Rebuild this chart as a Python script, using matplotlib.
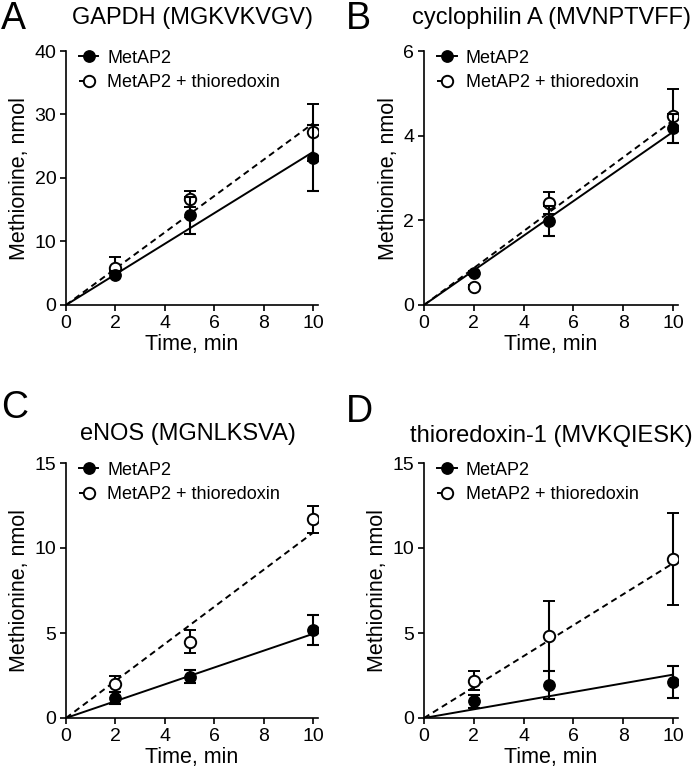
import numpy as np
import matplotlib
matplotlib.use('Agg')
import matplotlib.pyplot as plt
from matplotlib.lines import Line2D

plt.rcParams['font.family'] = ['Liberation Sans', 'DejaVu Sans']

times = [2, 5, 10]

panel_letters = ['A', 'B', 'C', 'D']
titles = ['GAPDH (MGKVKVGV)', 'cyclophilin A (MVNPTVFF)',
          'eNOS (MGNLKSVA)', 'thioredoxin-1 (MVKQIESK)']
y_max = [40, 6, 15, 15]
y_ticks = [[0, 10, 20, 30, 40], [0, 2, 4, 6], [0, 5, 10, 15], [0, 5, 10, 15]]
x_ticks = [0, 2, 4, 6, 8, 10]

# MetAP2 alone: mean and SD per time point
metap2_mean = [[4.8, 14.1, 23.2], [0.76, 1.99, 4.17], [1.17, 2.44, 5.18], [0.98, 1.96, 2.12]]
metap2_sd = [[0.5, 2.9, 5.2], [0.05, 0.35, 0.34], [0.35, 0.4, 0.9], [0.4, 0.82, 0.92]]
# MetAP2 + thioredoxin
trx_mean = [[5.9, 16.7, 27.2], [0.42, 2.41, 4.47], [2.0, 4.5, 11.68], [2.2, 4.84, 9.37]]
trx_sd = [[1.6, 1.2, 4.5], [0.05, 0.27, 0.64], [0.45, 0.7, 0.8], [0.55, 2.06, 2.7]]
# slopes of the fitted lines through the origin (nmol/min)
metap2_slope = [2.41, 0.409, 0.495, 0.255]
trx_slope = [2.86, 0.436, 1.09, 0.91]

W, H = 693, 772
fig = plt.figure(figsize=(W / 100, H / 100), dpi=100)

# axes boxes in pixels: left, top, right, bottom
boxes = [(66, 51, 318, 305), (424, 51, 678, 305),
         (66, 463, 318, 718), (424, 463, 678, 718)]
# baselines of titles and panel letters, in pixels
title_pos = [(192, 24), (552, 24), (188, 440), (551, 442)]
letter_pos = [(1, 29), (346, 29), (1, 418), (346, 422)]

dash = (0, (3.2, 2.2))
lw = 1.4
ms = 8.2

for i in range(4):
    l, t, r, b = boxes[i]
    ax = fig.add_axes([l / W, (H - b) / H, (r - l) / W, (b - t) / H])

    xs = np.array([0, 10])
    ax.plot(xs, metap2_slope[i] * xs, color='black', lw=lw, zorder=2)
    ax.plot(xs, trx_slope[i] * xs, color='black', lw=lw, ls=dash, zorder=2)

    ax.errorbar(times, trx_mean[i], yerr=trx_sd[i], fmt='o', ms=ms,
                mfc='white', mec='black', mew=1.4, ecolor='black',
                elinewidth=1.5, capsize=4.5, capthick=1.5, zorder=3)
    ax.errorbar(times, metap2_mean[i], yerr=metap2_sd[i], fmt='o', ms=ms,
                mfc='black', mec='black', ecolor='black',
                elinewidth=1.5, capsize=4.5, capthick=1.5, zorder=4)

    ax.set_xlim(0, 10.2)
    ax.set_ylim(0, y_max[i])
    ax.set_xticks(x_ticks)
    ax.set_yticks(y_ticks[i])
    for s in ['top', 'right']:
        ax.spines[s].set_visible(False)
    for s in ['left', 'bottom']:
        ax.spines[s].set_linewidth(1.2)
    ax.tick_params(direction='out', length=4, width=1.2, labelsize=14, pad=3)
    ax.set_xlabel('Time, min', fontsize=15.5, labelpad=2)
    ax.set_ylabel('Methionine, nmol', fontsize=15.5, labelpad=3)

    handles = [
        Line2D([], [], color='black', lw=lw, marker='o', ms=ms, mfc='black'),
        Line2D([], [], color='black', lw=lw, ls=dash, marker='o', ms=ms,
               mfc='white', mew=1.4),
    ]
    ax.legend(handles, ['MetAP2', 'MetAP2 + thioredoxin'], loc='upper left',
              bbox_to_anchor=(0.05, 1.005), frameon=False, fontsize=13,
              handlelength=1.1, handletextpad=0.5, labelspacing=0.4,
              borderpad=0, borderaxespad=0, numpoints=1)

    tx, ty = title_pos[i]
    fig.text(tx / W, 1 - ty / H, titles[i], fontsize=17, ha='center', va='baseline')
    lx, ly = letter_pos[i]
    fig.text(lx / W, 1 - ly / H, panel_letters[i], fontsize=27, ha='left', va='baseline')

fig.savefig('out.png', dpi=100)
